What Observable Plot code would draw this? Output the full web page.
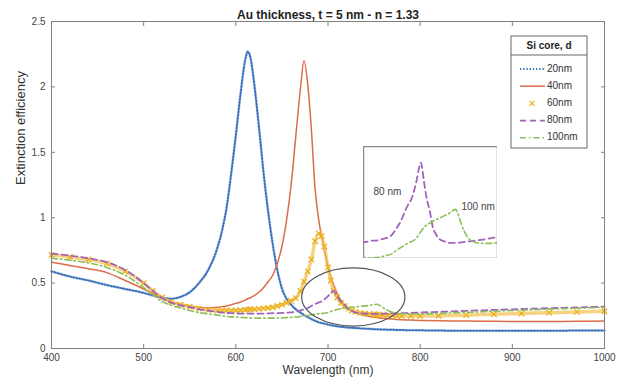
<!DOCTYPE html>
<html><head><meta charset="utf-8">
<script src="https://cdn.jsdelivr.net/npm/d3@7"></script>
<script src="https://cdn.jsdelivr.net/npm/@observablehq/plot@0.6"></script>
<style>
body{margin:0;background:#fff;font-family:"Liberation Sans",Arial,sans-serif}
#wrap{position:relative;width:617px;height:385px;overflow:hidden}
#inset{position:absolute;left:363px;top:146px;width:134px;height:112px}
</style></head><body><div id="wrap"><div id="main"></div><div id="inset"></div></div>
<script>
const title = "Au thickness, t = 5 nm - n = 1.33";
const xLabel = "Wavelength (nm)";
const yLabel = "Extinction efficiency";
const legendTitle = "Si core, d";
const seriesNames = ["20nm","40nm","60nm","80nm","100nm"];
const insetLabels = ["80 nm","100 nm"];
const xTicks = [400,500,600,700,800,900,1000];
const yTicks = [0,0.5,1,1.5,2,2.5];
const yTickLabels = ["0","0.5","1","1.5","2","2.5"];

const wavelength = [400,420,440,460,480,500,510,520,530,540,550,560,570,580,585,590,595,600,605,610,613,616,620,625,630,635,640,645,650,655,660,665,670,674,678,682,686,690,693,696,700,703,706,710,714,718,722,726,730,735,740,745,750,753,756,760,765,770,775,780,790,800,820,850,880,910,940,970,1000];

const d20 = [0.59,0.55,0.52,0.485,0.455,0.425,0.405,0.39,0.38,0.395,0.43,0.50,0.60,0.77,0.90,1.08,1.34,1.63,1.94,2.2,2.27,2.22,2.02,1.70,1.35,1.05,0.80,0.60,0.46,0.38,0.335,0.30,0.275,0.255,0.24,0.225,0.212,0.2,0.195,0.19,0.183,0.178,0.174,0.17,0.166,0.163,0.16,0.158,0.156,0.154,0.152,0.15,0.148,0.147,0.146,0.145,0.144,0.143,0.142,0.141,0.14,0.139,0.137,0.136,0.135,0.135,0.136,0.137,0.138];

const d40 = [0.66,0.635,0.61,0.58,0.52,0.455,0.42,0.385,0.355,0.34,0.325,0.315,0.31,0.315,0.32,0.325,0.335,0.345,0.355,0.37,0.38,0.39,0.405,0.43,0.465,0.51,0.56,0.65,0.78,0.98,1.25,1.62,1.98,2.2,2.02,1.67,1.22,0.98,0.86,0.75,0.63,0.55,0.49,0.42,0.37,0.335,0.31,0.29,0.275,0.262,0.252,0.245,0.24,0.237,0.234,0.231,0.228,0.225,0.222,0.22,0.217,0.215,0.212,0.21,0.208,0.207,0.207,0.208,0.21];

const d60 = [0.715,0.70,0.68,0.65,0.59,0.50,0.44,0.39,0.355,0.335,0.32,0.305,0.295,0.29,0.29,0.29,0.29,0.29,0.292,0.295,0.297,0.30,0.30,0.303,0.307,0.31,0.315,0.325,0.335,0.35,0.365,0.385,0.44,0.51,0.59,0.68,0.82,0.88,0.86,0.78,0.62,0.52,0.44,0.39,0.35,0.325,0.305,0.29,0.28,0.272,0.268,0.265,0.262,0.26,0.258,0.256,0.254,0.252,0.25,0.249,0.248,0.248,0.25,0.255,0.262,0.268,0.274,0.28,0.285];

const d80 = [0.725,0.71,0.69,0.66,0.60,0.50,0.44,0.385,0.35,0.33,0.315,0.30,0.29,0.28,0.275,0.272,0.27,0.268,0.267,0.266,0.266,0.266,0.266,0.267,0.267,0.268,0.27,0.27,0.272,0.274,0.276,0.28,0.29,0.30,0.31,0.325,0.34,0.352,0.36,0.375,0.40,0.425,0.44,0.40,0.36,0.335,0.30,0.285,0.275,0.27,0.267,0.265,0.265,0.265,0.265,0.266,0.267,0.268,0.269,0.27,0.272,0.275,0.28,0.288,0.295,0.302,0.308,0.314,0.32];

const d100 = [0.69,0.675,0.655,0.62,0.56,0.465,0.41,0.36,0.33,0.31,0.29,0.275,0.265,0.255,0.25,0.245,0.242,0.24,0.238,0.236,0.235,0.234,0.233,0.232,0.232,0.232,0.232,0.233,0.234,0.236,0.238,0.24,0.245,0.25,0.254,0.258,0.262,0.266,0.268,0.27,0.276,0.283,0.29,0.298,0.304,0.308,0.312,0.315,0.318,0.322,0.326,0.33,0.336,0.338,0.33,0.31,0.29,0.276,0.27,0.266,0.264,0.264,0.268,0.276,0.285,0.293,0.301,0.308,0.315];

const colors = ["#3a70bb","#dc6d4a","#edb120","#a064bd","#8cbf58"];
const ellipseNote = {x: 728, y: 0.39, rx: 56, ry: 0.222};

const rows = vals => wavelength.map((w, i) => ({w, v: vals[i]}));
const s20 = rows(d20), s40 = rows(d40), s60 = rows(d60), s80 = rows(d80), s100 = rows(d100);
const font = "Liberation Sans, Arial, sans-serif";
const curve = "monotone-x";
const blueDash = "1.3,1.9";

const plot = Plot.plot({
  width: 617, height: 385,
  marginLeft: 51, marginRight: 13, marginTop: 21, marginBottom: 37,
  style: {fontFamily: font, fontSize: "10px", background: "white", color: "#444"},
  x: {domain: [400, 1000]},
  y: {domain: [0, 2.5]},
  marks: [
    Plot.axisX({anchor: "bottom", ticks: xTicks, tickSize: -4, tickPadding: 9, tickFormat: d => String(d), label: null, stroke: "#808080", fill: "#444"}),
    Plot.axisX({anchor: "top", ticks: xTicks, tickSize: -4, tickFormat: () => "", label: null, stroke: "#808080"}),
    Plot.axisY({anchor: "left", ticks: yTicks, tickSize: -4, tickPadding: 10, tickFormat: d => yTickLabels[yTicks.indexOf(d)], label: null, stroke: "#808080", fill: "#444"}),
    Plot.axisY({anchor: "right", ticks: yTicks, tickSize: -4, tickFormat: () => "", label: null, stroke: "#808080"}),
    Plot.line(s20, {x: "w", y: "v", stroke: "#b7cbe8", strokeWidth: 3, strokeOpacity: 0.45, curve}),
    Plot.line(s20, {x: "w", y: "v", stroke: colors[0], strokeWidth: 2, strokeDasharray: blueDash, curve}),
    Plot.line(s40, {x: "w", y: "v", stroke: colors[1], strokeWidth: 1.5, curve}),
    Plot.line(s60, {x: "w", y: "v", stroke: "#f2c14e", strokeWidth: 3.5, strokeOpacity: 0.7, curve}),
    Plot.dot(s60, {x: "w", y: "v", symbol: "times", r: 2.6, stroke: colors[2], strokeWidth: 1.3}),
    Plot.line(s80, {x: "w", y: "v", stroke: colors[3], strokeWidth: 1.8, strokeDasharray: "6,4", curve}),
    Plot.line(s100, {x: "w", y: "v", stroke: colors[4], strokeWidth: 1.6, strokeDasharray: "6,3,1.5,3", curve}),
    Plot.frame({stroke: "#808080"}),
    Plot.text([title], {frameAnchor: "top", dy: -11, text: d => d, fontWeight: "bold", fontSize: 12, fill: "#222"}),
    Plot.text([xLabel], {frameAnchor: "bottom", dy: 25, text: d => d, fontSize: 12, fill: "#333"}),
    Plot.text([yLabel], {frameAnchor: "left", dx: -31, rotate: -90, text: d => d, fontSize: 13, fill: "#333"})
  ]
});
document.getElementById("main").appendChild(plot);

// annotation ellipse through the plot's scales
const sx = plot.scale("x"), sy = plot.scale("y");
const svg = d3.select(plot);
const cx = sx.apply(ellipseNote.x), cy = sy.apply(ellipseNote.y);
const rx = sx.apply(ellipseNote.x + ellipseNote.rx) - cx;
const ry = cy - sy.apply(ellipseNote.y + ellipseNote.ry);
svg.append("ellipse").attr("cx", cx).attr("cy", cy).attr("rx", rx).attr("ry", ry)
  .attr("fill", "none").attr("stroke", "#555").attr("stroke-width", 1.2);

// legend
const lg = svg.append("g").attr("font-family", font).attr("text-anchor", "start");
const lx = 511, ly = 36, lw = 76, lh = 112;
lg.append("rect").attr("x", lx).attr("y", ly).attr("width", lw).attr("height", lh)
  .attr("fill", "white").attr("stroke", "#666").attr("stroke-width", 1);
lg.append("line").attr("x1", lx).attr("x2", lx + lw).attr("y1", 55).attr("y2", 55).attr("stroke", "#666");
lg.append("text").attr("x", lx + lw / 2).attr("y", 46).attr("text-anchor", "middle").attr("dominant-baseline", "middle")
  .attr("font-size", 10).attr("font-weight", "bold").attr("fill", "#222").text(legendTitle);
const styles = [
  {w: 2, dash: blueDash}, {w: 1.5, dash: null}, null, {w: 1.8, dash: "6,4"}, {w: 1.6, dash: "6,3,1.5,3"}
];
seriesNames.forEach((name, i) => {
  const y = 69 + i * 17.2;
  if (styles[i]) {
    lg.append("line").attr("x1", 520).attr("x2", 545).attr("y1", y).attr("y2", y)
      .attr("stroke", colors[i]).attr("stroke-width", styles[i].w).attr("stroke-dasharray", styles[i].dash);
  } else {
    lg.append("path").attr("d", `M${529.5},${y - 2.5}L${534.5},${y + 2.5}M${534.5},${y - 2.5}L${529.5},${y + 2.5}`)
      .attr("stroke", colors[i]).attr("stroke-width", 1.3);
  }
  lg.append("text").attr("x", 547).attr("y", y).attr("text-anchor", "start").attr("dominant-baseline", "middle")
    .attr("font-size", 10).attr("fill", "#333").text(name);
});

// inset
const inset = Plot.plot({
  width: 134, height: 112, margin: 0,
  style: {fontFamily: font, fontSize: "10px", background: "white", overflow: "hidden"},
  x: {domain: [628, 810], axis: null},
  y: {domain: [0.231, 0.475], axis: null},
  marks: [
    Plot.line(s80, {x: "w", y: "v", stroke: colors[3], strokeWidth: 1.8, strokeDasharray: "6,4", curve, clip: true}),
    Plot.line(s100, {x: "w", y: "v", stroke: colors[4], strokeWidth: 1.6, strokeDasharray: "6,3,1.5,3", curve, clip: true}),
    Plot.text([insetLabels[0]], {frameAnchor: "top-left", dx: 10, dy: 41, textAnchor: "start", text: d => d, fill: "#444", fontSize: 10}),
    Plot.text([insetLabels[1]], {frameAnchor: "top-left", dx: 98, dy: 56, textAnchor: "start", text: d => d, fill: "#444", fontSize: 10}),
    Plot.frame({stroke: "#8c8c8c", strokeWidth: 1.5})
  ]
});
document.getElementById("inset").appendChild(inset);
</script></body></html>
